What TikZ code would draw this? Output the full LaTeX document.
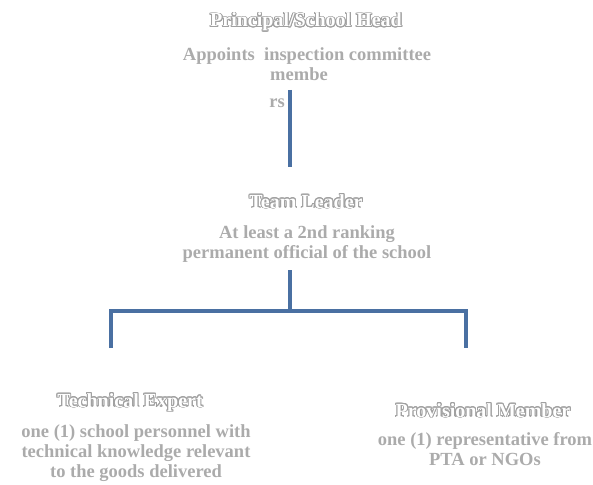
\documentclass[tikz,border=0pt]{standalone}
\usepackage{fontspec}
\setmainfont{Liberation Serif}
\usepackage[copies]{contour}
\contourlength{0.9pt}
\contournumber{20}
\usetikzlibrary{positioning}
\definecolor{linkblue}{HTML}{4A70A2}
\definecolor{textgray}{HTML}{ABABAB}
\definecolor{titlegray}{HTML}{A0A0A0}
\newcommand\boxtitle[1]{\textcolor{white}{\contour{titlegray}{\textbf{#1}}}}
\begin{document}
\begin{tikzpicture}[x=1pt, y=-1pt,
  every node/.style={font=\fontsize{18.5}{20}\selectfont, inner sep=0pt, align=center},
  title/.style={anchor=base, font=\fontsize{20}{20}\selectfont},
  body/.style={anchor=north, text=textgray, font=\fontsize{18.5}{20}\selectfont\bfseries},
  link/.style={draw=linkblue, line width=4.5pt}
]
\useasboundingbox (0,0) rectangle (593,484);

\node[title] (headtitle) at (306,27) {\boxtitle{Principal/School Head}};
\node[body] (head) at (307,47) {Appoints\ \ inspection committee\\\hspace*{-16pt}membe\\[7pt]\hspace*{-60pt}rs};

\node[title] (leadertitle) at (306,208) {\boxtitle{Team Leader}};
\node[body] (leader) at (307,225) {At least a 2nd ranking\\permanent official of the school};

\node[title] (experttitle) at (130,407) {\boxtitle{Technical Expert}};
\node[body] (expert) at (136,424) {one (1) school personnel with\\technical knowledge relevant\\to the goods delivered};

\node[title] (membertitle) at (483,417) {\boxtitle{Provisional Member}};
\node[body] (member) at (485,432) {one (1) representative from\\PTA or NGOs};

% connectors
\coordinate (headtop) at (290,90);
\coordinate (headbottom) at (290,167);
\coordinate (leadertop) at (290,270);
\coordinate (fork) at (290,311);
\coordinate (expertend) at (111,348);
\coordinate (memberend) at (466,348);

\draw[link] (headtop) -- (headbottom);
\draw[link] (leadertop) -- (fork);
\draw[link] (expertend) |- (fork) -| (memberend);
\end{tikzpicture}
\end{document}
